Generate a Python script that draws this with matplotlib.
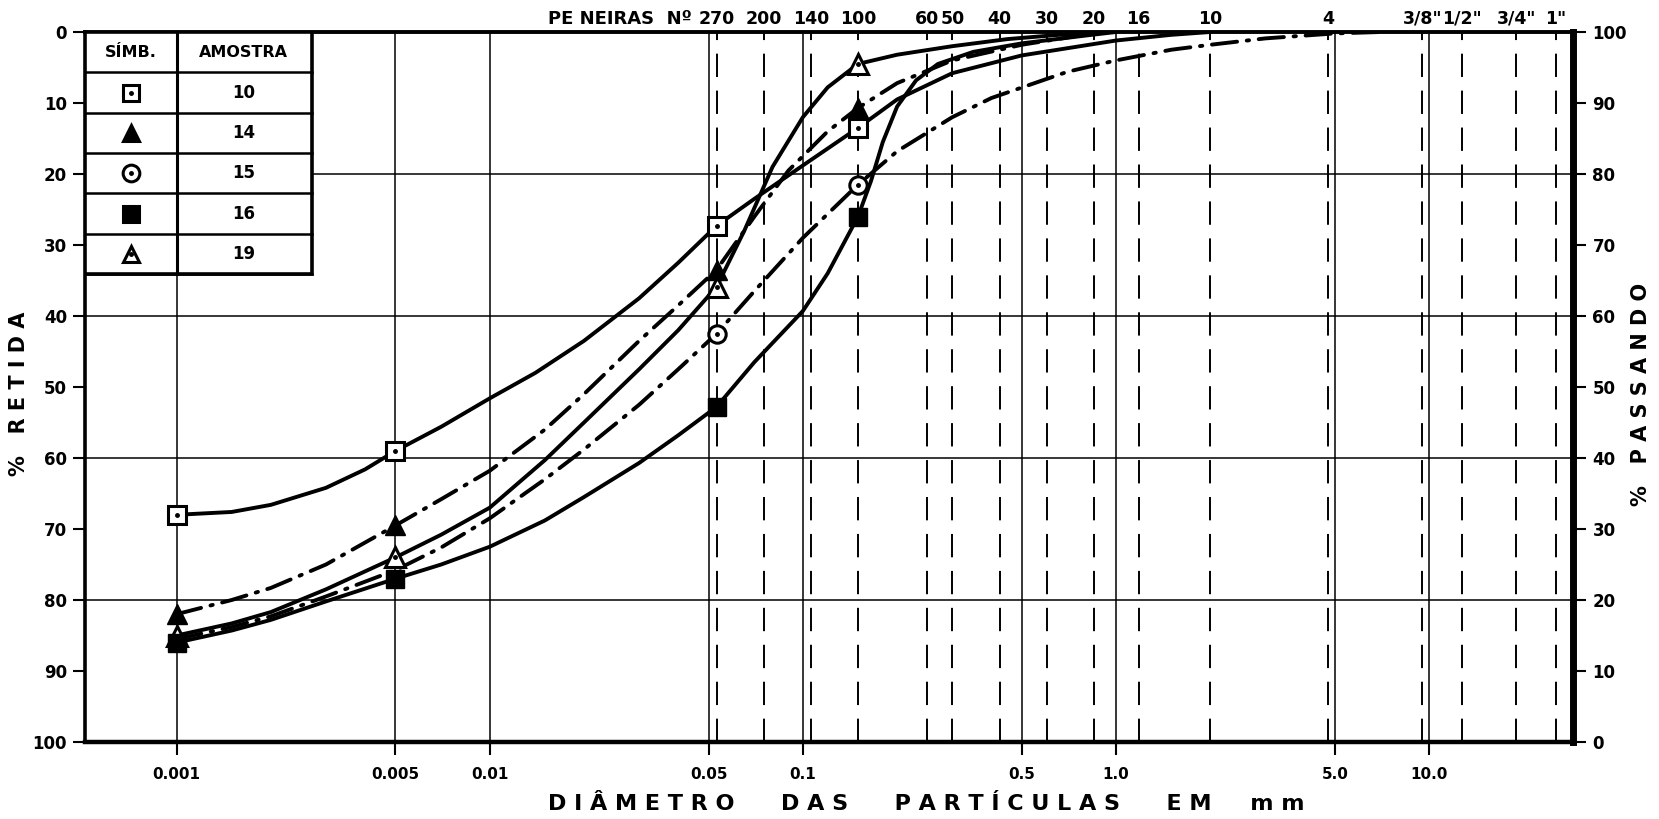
import matplotlib
matplotlib.use("Agg")
import matplotlib.pyplot as plt
from matplotlib.transforms import blended_transform_factory
from matplotlib.patches import Rectangle
from matplotlib.ticker import NullLocator

# ---- data (diameter in mm, % retained) ----
diam10 = [0.001, 0.0015, 0.002, 0.003, 0.004, 0.005, 0.007, 0.01, 0.014, 0.02, 0.03, 0.04,
          0.053, 0.07, 0.1, 0.15, 0.2, 0.3, 0.5, 1.0, 1.5, 2.0]
ret10 = [68, 67.6, 66.6, 64.2, 61.6, 59, 55.6, 51.6, 48, 43.5, 37.5, 32.5,
         27.3, 23.5, 18.8, 13.5, 9.5, 5.8, 3.3, 1.2, 0.4, 0]

diam14 = [0.001, 0.0015, 0.002, 0.003, 0.005, 0.007, 0.01, 0.015, 0.02, 0.03, 0.04,
          0.053, 0.07, 0.09, 0.12, 0.15, 0.2, 0.3, 0.5, 0.9]
ret14 = [82, 80, 78.3, 75, 69.5, 65.8, 61.8, 56, 51, 43.5, 38.5,
         33.5, 26, 19.5, 14, 10.7, 7.2, 4, 1.8, 0]

diam15 = [0.001, 0.0015, 0.002, 0.003, 0.005, 0.007, 0.01, 0.015, 0.02, 0.03, 0.04,
          0.053, 0.07, 0.1, 0.15, 0.2, 0.3, 0.4, 0.7, 1.0, 1.5, 2.0, 3.0, 5.0, 7.0]
ret15 = [85.5, 83.8, 82.3, 79.5, 75.8, 72.6, 68.5, 63, 58.8, 52.5, 47.5,
         42.5, 36.5, 29, 21.5, 16.8, 12, 9.3, 5.6, 4.0, 2.5, 1.8, 0.9, 0.2, 0]

diam16 = [0.001, 0.0015, 0.002, 0.003, 0.005, 0.007, 0.01, 0.015, 0.02, 0.03, 0.04,
          0.053, 0.07, 0.1, 0.12, 0.15, 0.165, 0.18, 0.2, 0.23, 0.27, 0.35, 0.5, 0.8, 1.0]
ret16 = [86, 84.3, 82.8, 80.2, 77, 75, 72.5, 68.8, 65.5, 60.7, 56.8,
         52.8, 46.5, 39.3, 34, 26, 21, 15.5, 10.5, 6.8, 4.5, 2.8, 1.6, 0.5, 0]

diam19 = [0.001, 0.0015, 0.002, 0.003, 0.005, 0.007, 0.01, 0.015, 0.02, 0.03, 0.04,
          0.053, 0.065, 0.08, 0.1, 0.12, 0.15, 0.2, 0.3, 0.45, 0.7, 0.9]
ret19 = [85, 83.3, 81.7, 78.5, 74, 70.8, 67, 60.3, 55, 47.5, 42,
         35.9, 28, 19, 12, 7.8, 4.5, 3.2, 2, 1, 0.3, 0]

# measured points (markers)
mk_d = [0.001, 0.005, 0.053, 0.15]
mk10 = [68, 59, 27.3, 13.5]
mk14 = [82, 69.5, 33.5, 10.7]
mk15_d = [0.053, 0.15]
mk15 = [42.5, 21.5]
mk16 = [86, 77, 52.8, 26]
mk19 = [85, 74, 35.9, 4.5]

samples = ["10", "14", "15", "16", "19"]

sieve_mm = [0.053, 0.075, 0.106, 0.15, 0.25, 0.3, 0.425, 0.6, 0.85, 1.18, 2.0, 4.75, 9.5, 12.7, 19.0, 25.4]
sieve_lbl = ["270", "200", "140", "100", "60", "50", "40", "30", "20", "16", "10", "4",
             '3/8"', '1/2"', '3/4"', '1"']

xt = [0.001, 0.005, 0.01, 0.05, 0.1, 0.5, 1, 5, 10]
xt_lbl = ["0.001", "0.005", "0.01", "0.05", "0.1", "0.5", "1.0", "5.0", "10.0"]

plt.rcParams['font.family'] = ['DejaVu Sans']

fig = plt.figure(figsize=(16.59, 8.19), dpi=100)
ax = fig.add_axes([85 / 1659, 77 / 819, 1488 / 1659, 710 / 819])
ax.set_xscale('log')
ax.set_xlim(0.00051, 28.8)
ax.set_ylim(100, 0)

# grid
for v in xt:
    ax.axvline(v, color='black', lw=1.1, zorder=1)
for s in sieve_mm:
    ax.axvline(s, color='black', lw=1.4, ls=(0, (12, 7)), zorder=1)
for h in [20, 40, 60, 80]:
    ax.axhline(h, color='black', lw=1.1, zorder=1)

# curves
dashdot = (0, (6.5, 2.5, 0.6, 2.5))
lw = 2.8
ax.plot(diam10, ret10, color='black', lw=lw, zorder=3, solid_capstyle='round', solid_joinstyle='round')
ax.plot(diam14, ret14, color='black', lw=lw, ls=dashdot, zorder=3, dash_capstyle='round')
ax.plot(diam15, ret15, color='black', lw=lw, ls=dashdot, zorder=3, dash_capstyle='round')
ax.plot(diam16, ret16, color='black', lw=lw, zorder=3, solid_capstyle='round', solid_joinstyle='round')
ax.plot(diam19, ret19, color='black', lw=lw, zorder=3, solid_capstyle='round', solid_joinstyle='round')


def open_mark(x, y, m, ms, z):
    ax.plot(x, y, ls='none', marker=m, ms=ms, mfc='white', mec='black', mew=2.2, zorder=z)
    ax.plot(x, y, ls='none', marker='o', ms=2.5, color='black', zorder=z + 0.1)


open_mark(mk_d, mk19, '^', 14, 4)
open_mark(mk15_d, mk15, 'o', 12.5, 4)
open_mark(mk_d, mk10, 's', 12.5, 4)
ax.plot(mk_d, mk14, ls='none', marker='^', ms=14, color='black', zorder=5)
ax.plot(mk_d, mk16, ls='none', marker='s', ms=13, color='black', zorder=5)

# axes / ticks
ax.set_xticks(xt)
ax.set_xticklabels(xt_lbl)
ax.xaxis.set_minor_locator(NullLocator())
ax.set_yticks(range(0, 101, 10))
ax.tick_params(axis='x', direction='out', length=9, width=1.5, labelsize=11, pad=9)
ax.tick_params(axis='y', direction='out', length=9, width=1.5, labelsize=12, pad=4)
for lab in ax.get_xticklabels() + ax.get_yticklabels():
    lab.set_fontweight('bold')
ax.spines['left'].set_linewidth(2.6)
ax.spines['bottom'].set_linewidth(3.2)
ax.spines['top'].set_linewidth(2.8)
ax.spines['right'].set_visible(False)

ax2 = ax.twinx()
ax2.set_ylim(0, 100)
ax2.set_yticks(range(0, 101, 10))
ax2.tick_params(axis='y', direction='out', length=9, width=1.5, labelsize=12, pad=5)
for lab in ax2.get_yticklabels():
    lab.set_fontweight('bold')
for sp in ['left', 'top', 'bottom']:
    ax2.spines[sp].set_visible(False)
ax2.spines['right'].set_linewidth(5)

# sieve labels on top
for s, lbl in zip(sieve_mm, sieve_lbl):
    ax.annotate(lbl, xy=(s, 1), xycoords=('data', 'axes fraction'), xytext=(0, 3),
                textcoords='offset points', ha='center', va='bottom',
                fontsize=12.5, fontweight='bold')
ax.annotate("PE NEIRAS  Nº", xy=(0.0442, 1), xycoords=('data', 'axes fraction'),
            xytext=(0, 3), textcoords='offset points', ha='right', va='bottom',
            fontsize=13, fontweight='bold')

# legend table
tr = blended_transform_factory(ax.transAxes, ax.transData)
tab_r = 0.1525
tab_b = 34.1
head_h = 5.7
ax.add_patch(Rectangle((0, 0), tab_r, tab_b, transform=tr, facecolor='white',
                       edgecolor='black', lw=2.6, zorder=6))
ax.plot([0.001, 0.001], [0, tab_b], color='black', lw=2.2, zorder=7)
row_h = (tab_b - head_h) / len(samples)
for i in range(len(samples) + 1):
    yy = head_h + i * row_h
    ax.plot([0, tab_r], [yy, yy], transform=tr, color='black', lw=1.8, zorder=7)
ax.text(0.031, head_h / 2, "SÍMB.", transform=tr, ha='center', va='center',
        fontsize=11.5, fontweight='bold', zorder=8)
ax.text(0.1065, head_h / 2, "AMOSTRA", transform=tr, ha='center', va='center',
        fontsize=11.5, fontweight='bold', zorder=8)
sym = [('s', 'white', True), ('^', 'black', False), ('o', 'white', True),
       ('s', 'black', False), ('^', 'white', True)]
for i, (name, (m, fc, dot)) in enumerate(zip(samples, sym)):
    yc = head_h + (i + 0.5) * row_h
    ax.plot([0.031], [yc], marker=m, ms=12, mfc=fc, mec='black', mew=2.2,
            transform=tr, zorder=8, ls='none')
    if dot:
        ax.plot([0.031], [yc], marker='o', ms=2.5, color='black', transform=tr, zorder=9)
    ax.text(0.1065, yc, name, transform=tr, ha='center', va='center',
            fontsize=12, fontweight='bold', zorder=8)

# axis titles
fig.text(19 / 1659, 1 - 394 / 819, "%   R E T I D A", rotation=90, ha='center', va='center',
         fontsize=15, fontweight='bold')
fig.text(1641 / 1659, 1 - 394 / 819, "%   P A S S A N D O", rotation=90, ha='center',
         va='center', fontsize=15, fontweight='bold')
fig.text(926 / 1659, 1 - 804 / 819,
         "D I Â M E T R O      D A S      P A R T Í C U L A S      E M     m m",
         ha='center', va='center', fontsize=16, fontweight='bold')

fig.savefig("out.png", dpi=100)
